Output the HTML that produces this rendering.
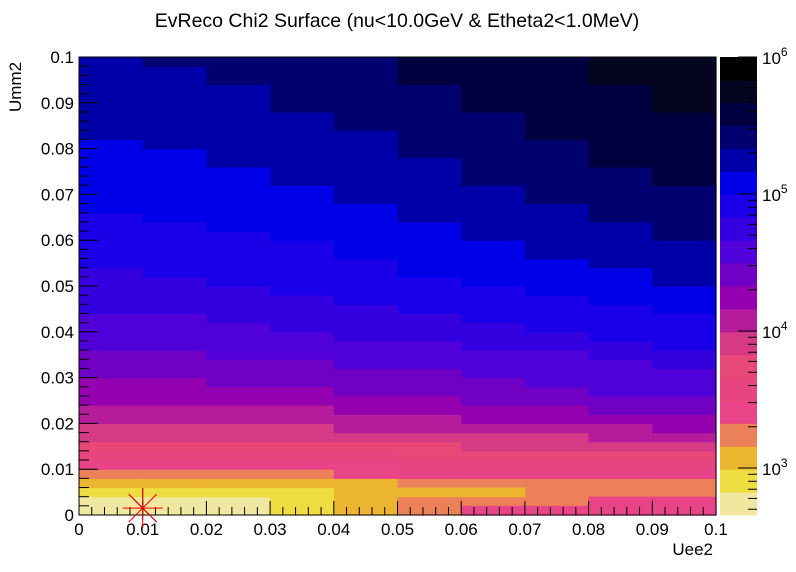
<!DOCTYPE html>
<html><head><meta charset="utf-8"><style>
html,body{margin:0;padding:0;background:#fff;}
svg{display:block;font-family:"Liberation Sans",sans-serif;}
</style></head><body>
<svg id="chart" width="796" height="572" viewBox="0 0 796 572">
<rect x="0" y="0" width="796" height="572" fill="#fff"/>
<text x="397" y="27" font-size="19.5" text-anchor="middle">EvReco Chi2 Surface (nu&lt;10.0GeV &amp; Etheta2&lt;1.0MeV)</text>
<g id="cells"></g>
<g id="cbar"></g>
<g id="axes"></g>
<text x="713" y="555" font-size="17" text-anchor="end">Uee2</text>
<text transform="translate(21,112) rotate(-90)" font-size="17" text-anchor="start">Umm2</text>
</svg>
<script>
// ---- data ----
const levelColors = ["#f0e8a0","#eedd40","#ecb530","#ec8058","#ea4488","#e84480","#e84878","#d63a84","#b41c9c","#9400b0","#7000c4","#5000d8","#3400e0","#1a00e8","#0000e8","#0000a8","#000070","#000040","#050520","#000000"];
// x groups (Uee2 centers) and boundary heights (Umm2, in units of 0.002 bins) where level k ends
const xGroups = [0.005,0.015,0.025,0.035,0.045,0.055,0.065,0.075,0.085,0.095];
const boundaries = [
 [2,2,2,0,0,0,0,0,0,0],
 [3,3,3,3,0,0,0,0,0,0],
 [4,4,4,4,4,0,0,0,0,0],
 [5,5,5,5,4,4,4,4,4,4],
 [6,6,6,6,6,5,5,5,5,5],
 [7,7,7,7,7,6,6,6,6,6],
 [8,8,8,8,8,8,7,7,7,7],
 [10,10,10,10,9,9,9,9,8,8],
 [12,12,12,12,11,11,10,10,10,9],
 [15,15,14,14,13,13,12,12,11,11],
 [18,18,17,17,16,16,15,14,13,13],
 [22,22,21,20,19,19,18,18,17,16],
 [27,26,25,24,23,22,21,20,19,18],
 [33,32,31,30,28,26,25,24,23,22],
 [41,40,38,36,34,32,30,28,27,25],
 [50,49,47,44,42,39,36,34,32,30],
 [50,50,50,50,50,47,44,41,38,36],
 [50,50,50,50,50,50,50,50,47,44],
 [50,50,50,50,50,50,50,50,50,50]
];
// individual cells that break the monotone pattern: group index, row index, level
const overrideGroups = [5,6,6,7,8,8,9,9];
const overrideRows   = [2,2,0,0,0,1,0,1];
const overrideLevels = [2,2,4,4,4,4,4,4];
const xTicks = [0,0.01,0.02,0.03,0.04,0.05,0.06,0.07,0.08,0.09,0.1];
const xTickLabels = ["0","0.01","0.02","0.03","0.04","0.05","0.06","0.07","0.08","0.09","0.1"];
const yTicks = [0,0.01,0.02,0.03,0.04,0.05,0.06,0.07,0.08,0.09,0.1];
const yTickLabels = ["0","0.01","0.02","0.03","0.04","0.05","0.06","0.07","0.08","0.09","0.1"];
const zDecades = [3,4,5,6];
const zMin = 2.657, zMax = 6;
const bestFit = [0.01, 0.0015];
const binWidth = 0.002;

// ---- geometry ----
const X0=79, X1=716, Y0=515, Y1=57;
const NS="http://www.w3.org/2000/svg";
const sx = v => X0 + v/0.1*(X1-X0);
const sy = v => Y0 - v/0.1*(Y0-Y1);
const sz = l => Y0 - (l-zMin)/(zMax-zMin)*(Y0-Y1);
function mk(tag, attrs, parent){const e=document.createElementNS(NS,tag);for(const k in attrs)e.setAttribute(k,attrs[k]);parent.appendChild(e);return e;}

const cells=document.getElementById('cells');
const gw = xGroups.length>1 ? (xGroups[1]-xGroups[0]) : 0.01;
xGroups.forEach((xc,g)=>{
  let prev=0;
  for(let k=0;k<=boundaries.length;k++){
    const top = k<boundaries.length ? boundaries[k][g] : 50;
    if(top>prev){
      const ya=sy(prev*binWidth), yb=sy(top*binWidth);
      const xa=sx(xc-gw/2), xb=sx(xc+gw/2);
      const r=mk('rect',{x:xa.toFixed(2),y:yb.toFixed(2),width:(xb-xa+0.6).toFixed(2),height:(ya-yb+0.6).toFixed(2),fill:levelColors[k]},cells);
      
      
      prev=top;
    }
  }
});
overrideGroups.forEach((g,i)=>{
  const xc=xGroups[g], r0=overrideRows[i];
  const xa=sx(xc-gw/2), xb=sx(xc+gw/2);
  const ya=sy(r0*binWidth), yb=sy((r0+1)*binWidth);
  const r=mk('rect',{x:xa.toFixed(2),y:yb.toFixed(2),width:(xb-xa+0.6).toFixed(2),height:(ya-yb+0.6).toFixed(2),fill:levelColors[overrideLevels[i]]},cells);
  
  
});

// color bar
const cbar=document.getElementById('cbar');
const nL=levelColors.length;
for(let k=0;k<nL;k++){
  const la=zMin+(zMax-zMin)*k/nL, lb=zMin+(zMax-zMin)*(k+1)/nL;
  const r=mk('rect',{x:720,y:sz(lb).toFixed(2),width:37,height:(sz(la)-sz(lb)+0.5).toFixed(2),fill:levelColors[k]},cbar);
  
  
}
for(let d=2;d<=6;d++){
  for(let m=1;m<=9;m++){
    const l=d+Math.log10(m);
    if(l<zMin-1e-6||l>zMax+1e-6) continue;
    const y=sz(l), len=(m===1)?19:9;
    const t=mk('line',{x1:757-len,x2:757,y1:y,y2:y,stroke:'#000','stroke-width':1},cbar);
    
    
  }
}
zDecades.forEach(d=>{
  const t=mk('text',{x:762,y:(sz(d)+7).toFixed(1),'font-size':17},cbar);
  
  
  t.textContent='10';
  const s=mk('tspan',{dy:-8,'font-size':12},t);s.textContent=String(d);
});

// axes
const axes=document.getElementById('axes');
mk('rect',{x:X0,y:Y1,width:X1-X0,height:Y0-Y1,fill:'none',stroke:'#000','stroke-width':1},axes);
for(let i=0;i<=50;i++){
  const v=i*0.002, x=sx(v), len=(i%5===0)?14:8;
  const t=mk('line',{x1:x,x2:x,y1:Y0,y2:Y0-len,stroke:'#000','stroke-width':1},axes);
  
  
  const y=sy(v), ly=(i%5===0)?19:10;
  const u=mk('line',{x1:X0,x2:X0+ly,y1:y,y2:y,stroke:'#000','stroke-width':1},axes);
  
  
}
xTicks.forEach((v,i)=>{
  const t=mk('text',{x:sx(v).toFixed(1),y:535,'font-size':17,'text-anchor':'middle'},axes);
  
  
  t.textContent=xTickLabels[i];
});
yTicks.forEach((v,i)=>{
  const t=mk('text',{x:74,y:(sy(v)+6).toFixed(1),'font-size':17,'text-anchor':'end'},axes);
  
  
  t.textContent=yTickLabels[i];
});

// best-fit marker
const bx=sx(bestFit[0]), by=sy(bestFit[1]);
const mg=mk('g',{},axes);


mk('line',{x1:bx,x2:bx,y1:by-20,y2:by+12,stroke:'#000','stroke-width':1},mg);
mk('line',{x1:bx-14,x2:bx+14,y1:by-14,y2:by+14,stroke:'#000','stroke-width':1},mg);
[[ -20,0,20,0],[0,-20,0,20],[-14,-14,14,14],[-14,14,14,-14]].forEach(a=>{
  mk('line',{x1:bx+a[0],y1:by+a[1],x2:bx+a[2],y2:by+a[3],stroke:'#ff0000','stroke-width':1},mg);
});
</script>
</body></html>
